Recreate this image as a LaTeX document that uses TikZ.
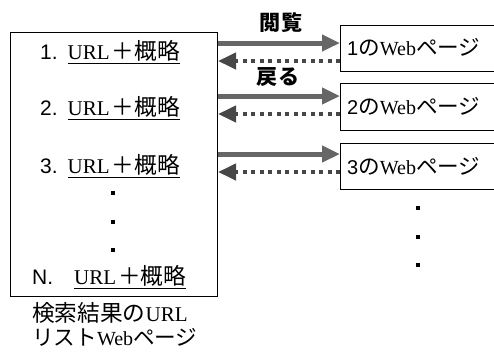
\documentclass[tikz,border=0pt]{standalone}
\usepackage{fontspec}
\setmainfont{Liberation Serif}
\newfontfamily\jp[Scale=1.08]{Noto Sans CJK JP}
\newfontfamily\ar{Liberation Sans}
\usetikzlibrary{arrows.meta}
\colorlet{arrgray}{gray!80!black}
\tikzset{
  box/.style={draw=black, line width=1pt, inner sep=0pt},
  txt/.style={inner sep=0pt, font=\fontsize{20}{22}\selectfont},
  ltxt/.style={inner sep=0pt, font=\fontsize{21}{23}\selectfont},
  lbl/.style={inner sep=0pt, font=\fontsize{19.5}{22}\selectfont\jp\bfseries},
  fwd/.style={draw=arrgray, line width=5pt, -{Triangle[length=18pt,width=16pt]}},
  bwd/.style={draw=arrgray!70!black, line width=4pt, dash pattern=on 4pt off 4.5pt,
     -{Triangle[length=18pt,width=16pt]}},
  dotmark/.style={fill=black, minimum size=4pt, inner sep=0pt},
}
\begin{document}
\begin{tikzpicture}[x=1pt,y=-1pt]
\useasboundingbox (0,0) rectangle (494,351);
% left list box
\node[box, anchor=north west, minimum width=207pt, minimum height=264pt] (L) at (10,32) {};
\node[ltxt, anchor=west] (l1) at (40,52) {{\ar 1.}\hspace{10pt}\underline{URL\hspace{2pt}{\jp ＋概略}}};
\node[ltxt, anchor=west] (l2) at (40,108) {{\ar 2.}\hspace{10pt}\underline{URL\hspace{2pt}{\jp ＋概略}}};
\node[ltxt, anchor=west] (l3) at (40,166) {{\ar 3.}\hspace{10pt}\underline{URL\hspace{2pt}{\jp ＋概略}}};
\node[dotmark] (d1) at (113,193) {};
\node[dotmark] (d2) at (113,222) {};
\node[dotmark] (d3) at (113,250) {};
\node[ltxt, anchor=west] (lN) at (32,277) {{\ar N.}\hspace{21pt}\underline{URL\hspace{2pt}{\jp ＋概略}}};
\node[ltxt, anchor=west] (cap1) at (32,313) {{\jp 検索結果の}URL};
\node[txt, anchor=west] (cap2) at (32,337) {{\jp リスト}Web{\jp ページ}};
% right page boxes
\node[box, anchor=north west, minimum width=170pt, minimum height=46pt] (R1) at (340,25) {};
\node[box, anchor=north west, minimum width=170pt, minimum height=47pt] (R2) at (340,83) {};
\node[box, anchor=north west, minimum width=170pt, minimum height=46pt] (R3) at (340,143) {};
\node[txt, anchor=west] (t1) at (347,47) {{\ar 1}{\jp の}Web{\jp ページ}};
\node[txt, anchor=west] (t2) at (347,106) {{\ar 2}{\jp の}Web{\jp ページ}};
\node[txt, anchor=west] (t3) at (347,166) {{\ar 3}{\jp の}Web{\jp ページ}};
\node[dotmark] (e1) at (418,208) {};
\node[dotmark] (e2) at (418,237) {};
\node[dotmark] (e3) at (418,265) {};
% arrows
\draw[fwd] (L.east |- 0,43) -- (R1.west |- 0,43);
\draw[bwd] (R1.west |- 0,61) -- (L.east |- 0,61);
\draw[fwd] (L.east |- 0,96) -- (R2.west |- 0,96);
\draw[bwd] (R2.west |- 0,114) -- (L.east |- 0,114);
\draw[fwd] (L.east |- 0,154) -- (R3.west |- 0,154);
\draw[bwd] (R3.west |- 0,172) -- (L.east |- 0,172);
% labels
\node[lbl] (view) at (281,23) {閲覧};
\node[lbl] (back) at (278,77) {戻る};
\end{tikzpicture}
\end{document}
